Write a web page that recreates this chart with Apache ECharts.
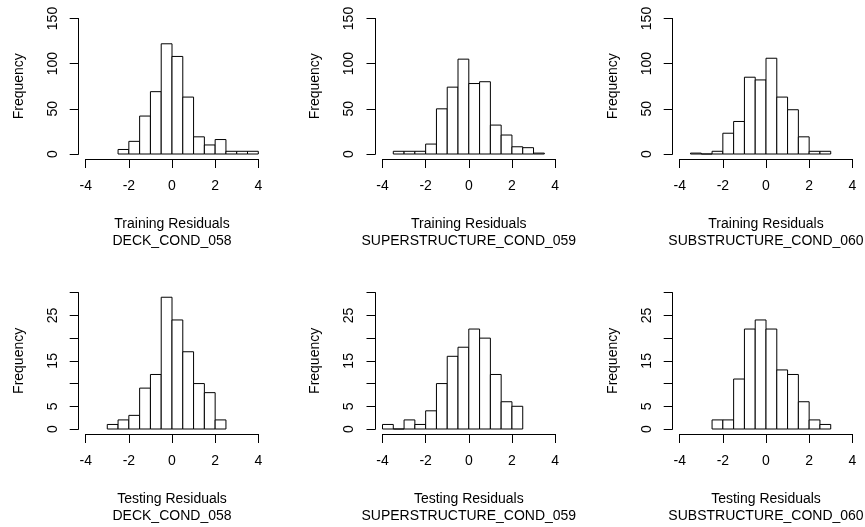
<!DOCTYPE html>
<html>
<head>
<meta charset="utf-8">
<script src="https://cdn.jsdelivr.net/npm/echarts@6/dist/echarts.min.js"></script>
<style>
html,body{margin:0;padding:0;background:#fff;}
#chart{width:865px;height:527px;}
</style>
</head>
<body>
<div id="chart"></div>
<script>
// ---- data (bin edges + counts) ----
const xTicks = [-4, -2, 0, 2, 4];
const trainYTicks = [0, 50, 100, 150];
const testYTicks = [0, 5, 10, 15, 20, 25, 30];
const testYLabels = [0, 5, 15, 25];

const deckTrainEdges  = [-2.5,-2,-1.5,-1,-0.5,0,0.5,1,1.5,2,2.5,3,3.5,4];
const deckTrainCounts = [5,14,42,69,122,108,63,19,10,16,3,3,3];

const superTrainEdges  = [-3.5,-3,-2.5,-2,-1.5,-1,-0.5,0,0.5,1,1.5,2,2.5,3,3.5];
const superTrainCounts = [3,3,3,11,50,74,105,78,80,32,21,8,7,1];

const subTrainEdges  = [-3.5,-3,-2.5,-2,-1.5,-1,-0.5,0,0.5,1,1.5,2,2.5,3];
const subTrainCounts = [1,0,3,23,36,85,82,106,63,49,19,3,3];

const deckTestEdges  = [-3,-2.5,-2,-1.5,-1,-0.5,0,0.5,1,1.5,2,2.5];
const deckTestCounts = [1,2,3,9,12,29,24,17,10,8,2];

const superTestEdges  = [-4,-3.5,-3,-2.5,-2,-1.5,-1,-0.5,0,0.5,1,1.5,2,2.5];
const superTestCounts = [1,0,2,1,4,10,16,18,22,20,12,6,5];

const subTestEdges  = [-2.5,-2,-1.5,-1,-0.5,0,0.5,1,1.5,2,2.5,3];
const subTestCounts = [2,2,11,22,24,22,13,12,6,2,1];

const panels = [
  {edges: deckTrainEdges,  counts: deckTrainCounts,  title: 'Training Residuals', sub: 'DECK_COND_058', row: 0, col: 0},
  {edges: superTrainEdges, counts: superTrainCounts, title: 'Training Residuals', sub: 'SUPERSTRUCTURE_COND_059', row: 0, col: 1},
  {edges: subTrainEdges,   counts: subTrainCounts,   title: 'Training Residuals', sub: 'SUBSTRUCTURE_COND_060', row: 0, col: 2},
  {edges: deckTestEdges,   counts: deckTestCounts,   title: 'Testing Residuals',  sub: 'DECK_COND_058', row: 1, col: 0},
  {edges: superTestEdges,  counts: superTestCounts,  title: 'Testing Residuals',  sub: 'SUPERSTRUCTURE_COND_059', row: 1, col: 1},
  {edges: subTestEdges,    counts: subTestCounts,    title: 'Testing Residuals',  sub: 'SUBSTRUCTURE_COND_060', row: 1, col: 2}
];

// ---- layout ----
const FONT = "'Liberation Sans', Arial, sans-serif";
const colLeft = [85.7, 382.5, 679.7];
const rowTop = [18.5, 292.7];
const rowHeight = [135.5, 136.3];
const plotWidth = 172.6;

const grids = [], xAxes = [], yAxes = [], series = [];
panels.forEach((p, i) => {
  grids.push({
    left: colLeft[p.col], top: rowTop[p.row],
    width: plotWidth, height: rowHeight[p.row],
    containLabel: false, outerBoundsMode: 'none'
  });
  const isTrain = p.row === 0;
  xAxes.push({
    gridIndex: i, type: 'value', min: xTicks[0], max: xTicks[xTicks.length - 1], interval: 2,
    position: 'bottom', offset: 5,
    axisLine: {show: true, onZero: false, lineStyle: {color: '#000', width: 1}},
    axisTick: {show: true, length: 9, lineStyle: {color: '#000', width: 1}},
    axisLabel: {show: true, margin: 20, color: '#000', fontSize: 14, fontFamily: FONT,
      formatter: v => String(v)},
    splitLine: {show: false},
    name: p.title + '\n' + p.sub, nameLocation: 'middle', nameGap: 57,
    nameTextStyle: {color: '#000', fontSize: 14, fontFamily: FONT, lineHeight: 17, verticalAlign: 'top'}
  });
  const yTicks = isTrain ? trainYTicks : testYTicks;
  yAxes.push({
    gridIndex: i, type: 'value', min: yTicks[0], max: yTicks[yTicks.length - 1],
    interval: yTicks[1] - yTicks[0],
    position: 'left', offset: 7,
    axisLine: {show: true, onZero: false, lineStyle: {color: '#000', width: 1}},
    axisTick: {show: true, length: 9, lineStyle: {color: '#000', width: 1}},
    axisLabel: {show: true, margin: 19, rotate: 90, color: '#000', fontSize: 14, fontFamily: FONT,
      showMinLabel: true, showMaxLabel: true, hideOverlap: false,
      formatter: v => isTrain ? String(v) : (testYLabels.indexOf(v) >= 0 ? String(v) : '')},
    splitLine: {show: false},
    name: 'Frequency', nameLocation: 'middle', nameRotate: 90, nameGap: 53,
    nameTextStyle: {color: '#000', fontSize: 14, fontFamily: FONT}
  });
  const data = p.counts.map((c, k) => [p.edges[k], p.edges[k + 1], c]);
  series.push({
    type: 'custom', xAxisIndex: i, yAxisIndex: i, clip: false,
    encode: {x: [0, 1], y: 2},
    data: data,
    renderItem: function (params, api) {
      const a = api.coord([api.value(0), api.value(2)]);
      const b = api.coord([api.value(1), 0]);
      return {
        type: 'rect',
        shape: {x: a[0], y: a[1], width: b[0] - a[0], height: b[1] - a[1]},
        style: {fill: '#fff', stroke: '#000', lineWidth: 1}
      };
    }
  });
});

const chart = echarts.init(document.getElementById('chart'), null, {renderer: 'canvas'});
chart.setOption({
  animation: false,
  backgroundColor: '#fff',
  grid: grids, xAxis: xAxes, yAxis: yAxes, series: series
});
</script>
</body>
</html>
